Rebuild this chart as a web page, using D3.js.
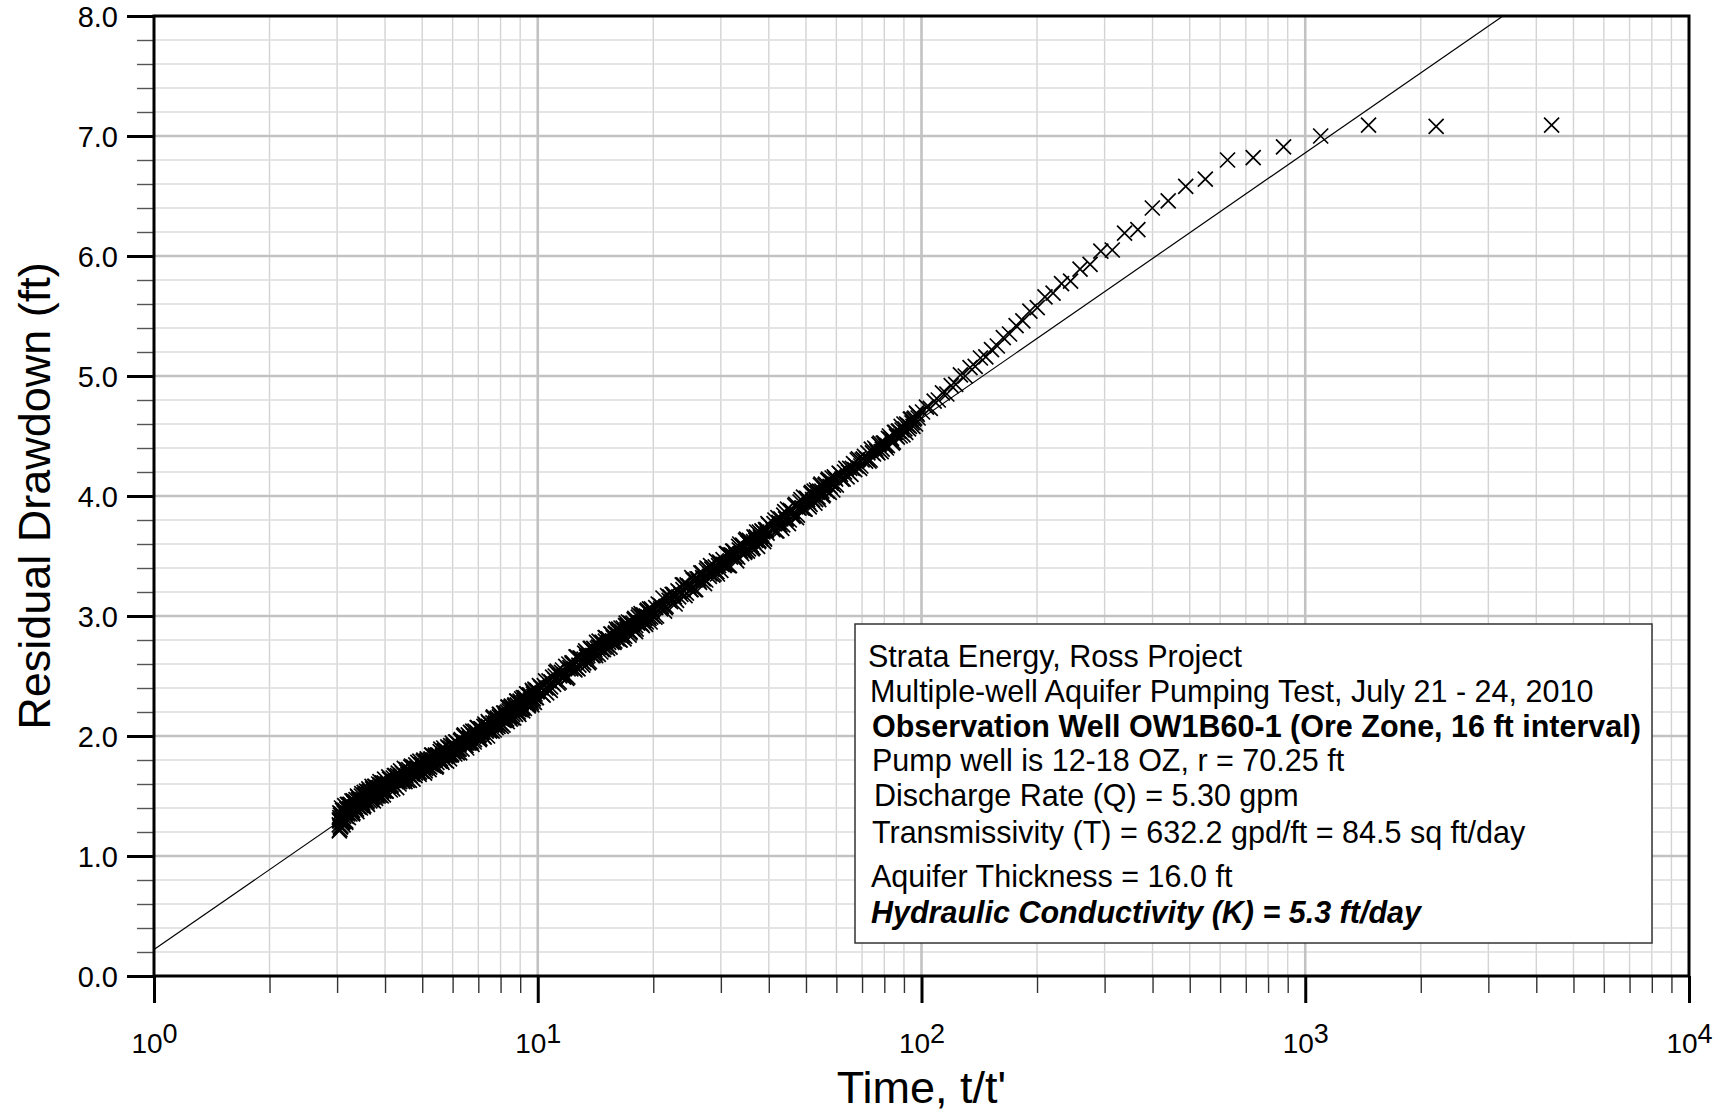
<!DOCTYPE html>
<html>
<head>
<meta charset="utf-8">
<script src="https://cdn.jsdelivr.net/npm/d3@7/dist/d3.min.js"></script>
<style>
  html, body { margin: 0; padding: 0; background: #fff; }
  svg { display: block; font-family: "Liberation Sans", Arial, Helvetica, sans-serif; }
</style>
</head>
<body>
<svg id="chart" width="1725" height="1112"></svg>
<script>
// ---------------------------------------------------------------------------
// Recovery data, OW1B60-1: time ratio t/t' and residual drawdown (ft)
// ---------------------------------------------------------------------------
const timeA = [3.04,3.04,3.05,3.05,3.06,3.06,3.08,3.10,3.12,3.14,3.16,
  3.05,3.07,3.09,3.11,3.13,3.15,3.17,3.19,3.21,3.23,3.25,3.27,3.29,3.31,3.33,3.35,
  3.37,3.39,3.41,3.43,3.45,3.47,3.49,3.51,3.53,3.55,3.57,3.59,3.61,3.63,3.65,3.67,
  3.69,3.71,3.73,3.75,3.77,3.79,3.81,3.83,3.85,3.87,3.89,3.91,3.93,3.95,3.97,3.99];
const drawdownA = [1.30,1.26,1.22,1.36,1.34,1.24,1.40,1.38,1.29,1.42,1.28,
  1.32,1.25,1.32,1.26,1.36,1.35,1.33,1.43,1.32,1.39,1.43,1.38,1.35,1.46,1.41,1.45,
  1.39,1.50,1.41,1.47,1.40,1.50,1.46,1.41,1.53,1.46,1.52,1.45,1.51,1.56,1.46,1.53,
  1.48,1.56,1.46,1.54,1.58,1.52,1.50,1.57,1.60,1.51,1.58,1.50,1.60,1.57,1.54,1.64];
const timeA2 = [3.04,3.06,3.08,3.10,3.12,3.14,3.16,3.18,3.20,3.22,3.24,3.26,3.28,3.30,
  3.32,3.34,3.36,3.38,3.40,3.42,3.44,3.46,3.48,3.50,3.52,3.54,3.56,3.58,3.60,3.62,
  3.64,3.66,3.68,3.70,3.72,3.74,3.76,3.78,3.80,3.82,3.84,3.86,3.88,3.90,3.92,3.94,
  3.96,3.98];
const drawdownA2 = [1.21,1.30,1.35,1.28,1.33,1.38,1.29,1.39,1.36,1.43,1.35,1.40,1.46,1.36,
  1.44,1.40,1.47,1.37,1.49,1.41,1.46,1.42,1.52,1.47,1.42,1.51,1.46,1.54,1.43,1.52,
  1.54,1.50,1.47,1.58,1.49,1.54,1.58,1.48,1.57,1.52,1.50,1.57,1.62,1.53,1.56,1.61,
  1.51,1.61];
const timeA3 = [3.05,3.08,3.11,3.14,3.17,3.20,3.23,3.26,3.29,3.32,3.35,3.38,3.41,3.44,
  3.47,3.50,3.53,3.56,3.59,3.62,3.65,3.68,3.71,3.74,3.77,3.80,3.83,3.86,3.89,3.92,
  3.95,3.98];
const drawdownA3 = [1.29,1.28,1.29,1.37,1.36,1.35,1.39,1.42,1.38,1.44,1.41,1.43,1.47,1.43,
  1.47,1.44,1.50,1.47,1.46,1.53,1.51,1.49,1.53,1.56,1.50,1.56,1.53,1.55,1.59,1.54,
  1.58,1.55];

const timeB = [4.03,4.07,4.11,4.15,4.19,4.23,4.27,4.31,4.35,4.39,4.43,4.47,4.51,4.55,
  4.59,4.63,4.67,4.71,4.75,4.79,4.83,4.87,4.91,4.95,4.99,5.03,5.07,5.11,5.15,5.19,
  5.23,5.27,5.31,5.35,5.39,5.43,5.47,5.51,5.55,5.59,5.63,5.67,5.71,5.75,5.79,5.83,
  5.87,5.91,5.95,5.99];
const drawdownB = [1.54,1.60,1.64,1.59,1.56,1.67,1.62,1.67,1.60,1.71,1.63,1.68,1.62,1.72,
  1.68,1.63,1.74,1.68,1.74,1.67,1.73,1.78,1.68,1.76,1.71,1.79,1.69,1.77,1.81,1.75,
  1.74,1.81,1.84,1.75,1.82,1.74,1.84,1.82,1.79,1.89,1.78,1.85,1.88,1.83,1.79,1.91,
  1.85,1.90,1.84,1.94];
const timeB2 = [4.01,4.05,4.09,4.13,4.17,4.21,4.25,4.29,4.33,4.37,4.41,4.45,4.49,4.53,
  4.57,4.61,4.65,4.69,4.73,4.77,4.81,4.85,4.89,4.93,4.97,5.01,5.05,5.09,5.13,5.17,
  5.21,5.25,5.29,5.33,5.37,5.41,5.45,5.49,5.53,5.57,5.61,5.65,5.69,5.73,5.77,5.81,
  5.85,5.89,5.93,5.97];
const drawdownB2 = [1.54,1.60,1.66,1.55,1.63,1.60,1.67,1.57,1.69,1.62,1.67,1.62,1.73,1.67,
  1.63,1.72,1.67,1.75,1.64,1.73,1.76,1.71,1.69,1.79,1.71,1.75,1.80,1.71,1.79,1.75,
  1.72,1.80,1.84,1.76,1.80,1.84,1.75,1.84,1.81,1.87,1.79,1.84,1.90,1.80,1.87,1.84,
  1.90,1.81,1.92,1.85];
const timeB3 = [4.02,4.08,4.14,4.20,4.26,4.32,4.38,4.44,4.50,4.56,4.62,4.68,4.74,4.80,
  4.86,4.92,4.98,5.04,5.10,5.16,5.22,5.28,5.34,5.40,5.46,5.52,5.58,5.64,5.70,5.76,
  5.82,5.88,5.94];
const drawdownB3 = [1.60,1.58,1.58,1.65,1.63,1.62,1.66,1.69,1.64,1.70,1.68,1.70,1.73,1.69,
  1.73,1.70,1.76,1.74,1.73,1.80,1.77,1.76,1.80,1.83,1.78,1.84,1.81,1.83,1.87,1.83,
  1.87,1.84,1.89];

const timeC = [6.05,6.11,6.17,6.23,6.29,6.35,6.41,6.47,6.53,6.59,6.65,6.71,6.77,6.83,
  6.89,6.95,7.01,7.07,7.13,7.19,7.25,7.31,7.37,7.43,7.49,7.55,7.61,7.67,7.73,7.79,
  7.85,7.91,7.97,8.03,8.09,8.15,8.21,8.27,8.33,8.39,8.45,8.51,8.57,8.63,8.69,8.75,
  8.81,8.87,8.93,8.99,9.05,9.11,9.17,9.23,9.29,9.35,9.41,9.47,9.53,9.59,9.65,9.71,
  9.77,9.83,9.89,9.95];
const drawdownC = [1.87,1.95,1.86,1.93,1.96,1.89,2.00,1.94,1.90,2.01,1.99,1.95,2.04,1.95,
  2.00,2.07,2.00,1.98,2.06,2.05,1.99,2.09,2.05,2.12,2.04,2.10,2.04,2.16,2.10,2.07,
  2.15,2.10,2.18,2.08,2.15,2.19,2.13,2.19,2.12,2.24,2.17,2.24,2.15,2.22,2.25,2.18,
  2.29,2.23,2.18,2.29,2.28,2.23,2.32,2.23,2.28,2.35,2.28,2.26,2.34,2.33,2.26,2.37,
  2.33,2.39,2.32,2.37];
const timeC2 = [6.02,6.08,6.14,6.20,6.26,6.32,6.38,6.44,6.50,6.56,6.62,6.68,6.74,6.80,
  6.86,6.92,6.98,7.04,7.10,7.16,7.22,7.28,7.34,7.40,7.46,7.52,7.58,7.64,7.70,7.76,
  7.82,7.88,7.94,8.00,8.06,8.12,8.18,8.24,8.30,8.36,8.42,8.48,8.54,8.60,8.66,8.72,
  8.78,8.84,8.90,8.96,9.02,9.08,9.14,9.20,9.26,9.32,9.38,9.44,9.50,9.56,9.62,9.68,
  9.74,9.80,9.86,9.92,9.98];
const drawdownC2 = [1.92,1.85,1.95,1.89,1.86,1.97,1.94,2.01,1.92,1.98,1.94,2.03,1.93,2.00,
  2.04,1.99,2.07,1.97,2.06,2.03,2.00,2.10,2.08,2.00,2.11,2.05,2.09,2.15,2.05,2.11,
  2.14,2.08,2.18,2.11,2.16,2.09,2.19,2.17,2.14,2.24,2.21,2.14,2.25,2.18,2.15,2.26,
  2.23,2.29,2.20,2.27,2.22,2.31,2.21,2.28,2.32,2.27,2.35,2.25,2.34,2.30,2.28,2.38,
  2.35,2.28,2.38,2.32,2.37];
const timeC3 = [6.04,6.14,6.24,6.34,6.44,6.54,6.64,6.74,6.84,6.94,7.04,7.14,7.24,7.34,
  7.44,7.54,7.64,7.74,7.84,7.94,8.04,8.14,8.24,8.34,8.44,8.54,8.64,8.74,8.84,8.94,
  9.04,9.14,9.24,9.34,9.44,9.54,9.64,9.74,9.84,9.94];
const drawdownC3 = [1.91,1.89,1.89,1.96,1.95,1.94,1.98,2.02,1.97,2.03,2.01,2.03,2.08,2.04,
  2.08,2.05,2.11,2.09,2.09,2.16,2.14,2.13,2.17,2.20,2.16,2.22,2.20,2.22,2.26,2.22,
  2.27,2.24,2.30,2.28,2.27,2.34,2.32,2.31,2.35,2.38];

const timeD = [10.10,10.25,10.40,10.55,10.70,10.85,11.00,11.15,11.30,11.45,11.60,11.75,
  11.90,12.05,12.20,12.35,12.50,12.65,12.80,12.95,13.10,13.25,13.40,13.55,13.70,13.85,
  14.00,14.15,14.30,14.45,14.60,14.75,14.90,15.05,15.20,15.35,15.50,15.65,15.80,15.95,
  16.10,16.25,16.40,16.55,16.70,16.85,17.00,17.15,17.30,17.45,17.60,17.75,17.90,18.05,
  18.20,18.35,18.50,18.65,18.80,18.95,19.10,19.25,19.40,19.55,19.70,19.85];
const drawdownD = [2.42,2.35,2.42,2.36,2.46,2.45,2.43,2.53,2.44,2.51,2.55,2.51,
  2.48,2.60,2.56,2.61,2.55,2.66,2.59,2.65,2.59,2.69,2.66,2.61,2.73,2.67,
  2.73,2.67,2.73,2.79,2.70,2.78,2.74,2.82,2.73,2.80,2.85,2.79,2.78,2.86,
  2.81,2.89,2.80,2.87,2.90,2.83,2.94,2.88,2.84,2.94,2.93,2.89,2.98,2.89,
  2.94,3.01,2.94,2.93,3.00,2.99,2.93,3.04,2.99,3.06,2.99,3.04];
const timeD2 = [10.18,10.33,10.48,10.63,10.78,10.93,11.08,11.23,11.38,11.53,11.68,11.83,
  11.98,12.13,12.28,12.43,12.58,12.73,12.88,13.03,13.18,13.33,13.48,13.63,13.78,13.93,
  14.08,14.23,14.38,14.53,14.68,14.83,14.98,15.13,15.28,15.43,15.58,15.73,15.88,16.03,
  16.18,16.33,16.48,16.63,16.78,16.93,17.08,17.23,17.38,17.53,17.68,17.83,17.98,18.13,
  18.28,18.43,18.58,18.73,18.88,19.03,19.18,19.33,19.48,19.63,19.78,19.93];
const drawdownD2 = [2.41,2.34,2.46,2.40,2.38,2.49,2.47,2.54,2.45,2.53,2.49,2.58,
  2.49,2.57,2.61,2.56,2.66,2.56,2.65,2.62,2.61,2.71,2.69,2.62,2.73,2.67,
  2.72,2.78,2.68,2.74,2.78,2.72,2.82,2.76,2.81,2.74,2.85,2.82,2.79,2.89,
  2.87,2.80,2.90,2.84,2.81,2.92,2.89,2.95,2.86,2.93,2.89,2.97,2.87,2.95,
  2.99,2.94,3.02,2.92,3.01,2.98,2.95,3.05,3.03,2.95,3.06,3.00];
const timeD3 = [10.2,10.5,10.8,11.1,11.4,11.7,12.0,12.3,12.6,12.9,13.2,13.5,13.8,14.1,
  14.4,14.7,15.0,15.3,15.6,15.9,16.2,16.5,16.8,17.1,17.4,17.7,18.0,18.3,18.6,18.9,
  19.2,19.5,19.8];
const drawdownD3 = [2.40,2.40,2.41,2.50,2.50,2.50,2.56,2.60,2.57,2.64,2.64,2.67,2.72,2.69,
  2.74,2.72,2.79,2.78,2.78,2.85,2.84,2.83,2.88,2.92,2.87,2.94,2.92,2.95,3.00,2.96,
  3.00,2.98,3.04];

const timeE = [20.2,20.6,21.0,21.4,21.8,22.2,22.6,23.0,23.4,23.8,24.2,24.6,25.0,25.4,
  25.8,26.2,26.6,27.0,27.4,27.8,28.2,28.6,29.0,29.4,29.8,30.2,30.6,31.0,31.4,31.8,
  32.2,32.6,33.0,33.4,33.8,34.2,34.6,35.0,35.4,35.8,36.2,36.6,37.0,37.4,37.8,38.2,
  38.6,39.0,39.4,39.8];
const drawdownE = [2.99,3.10,3.08,3.04,3.17,3.12,3.18,3.13,3.20,3.26,3.17,3.25,3.22,3.30,
  3.22,3.31,3.36,3.31,3.30,3.39,3.42,3.34,3.41,3.35,3.45,3.43,3.42,3.52,3.42,3.49,
  3.54,3.49,3.46,3.58,3.54,3.59,3.53,3.64,3.56,3.62,3.56,3.66,3.63,3.58,3.70,3.64,
  3.70,3.64,3.71,3.77];
const timeE2 = [20.4,20.8,21.2,21.6,22.0,22.4,22.8,23.2,23.6,24.0,24.4,24.8,25.2,25.6,
  26.0,26.4,26.8,27.2,27.6,28.0,28.4,28.8,29.2,29.6,30.0,30.4,30.8,31.2,31.6,32.0,
  32.4,32.8,33.2,33.6,34.0,34.4,34.8,35.2,35.6,36.0,36.4,36.8,37.2,37.6,38.0,38.4,
  38.8,39.2,39.6,40.0];
const drawdownE2 = [3.00,3.09,3.15,3.08,3.13,3.18,3.10,3.21,3.18,3.26,3.19,3.25,3.32,3.22,
  3.31,3.28,3.36,3.27,3.40,3.33,3.39,3.35,3.46,3.42,3.38,3.47,3.43,3.52,3.42,3.51,
  3.54,3.51,3.49,3.60,3.52,3.57,3.63,3.54,3.63,3.59,3.57,3.65,3.70,3.62,3.66,3.71,
  3.62,3.72,3.69,3.76];
const timeE3 = [20.3,20.9,21.5,22.1,22.7,23.3,23.9,24.5,25.1,25.7,26.3,26.9,27.5,28.1,
  28.7,29.3,29.9,30.5,31.1,31.7,32.3,32.9,33.5,34.1,34.7,35.3,35.9,36.5,37.1,37.7,
  38.3,38.9,39.5];
const drawdownE3 = [3.07,3.06,3.07,3.16,3.16,3.16,3.22,3.26,3.22,3.30,3.29,3.32,3.38,3.35,
  3.40,3.37,3.44,3.43,3.43,3.51,3.50,3.50,3.55,3.58,3.54,3.61,3.59,3.62,3.66,3.63,
  3.68,3.65,3.72];

const timeF = [41.0,41.5,42.0,42.5,43.0,43.5,44.0,44.5,45.0,45.5,46.0,46.5,47.0,47.5,
  48.0,48.5,49.0,49.5,50.0,50.5,51.0,51.5,52.0,52.5,53.0,53.5,54.0,54.5,55.0,55.5,
  56.0,56.5,57.0,57.5,58.0,58.5,59.0,59.5,60.0];
const drawdownF = [3.72,3.80,3.71,3.78,3.81,3.76,3.87,3.81,3.77,3.88,3.87,3.84,3.93,3.84,
  3.90,3.97,3.90,3.89,3.98,3.97,3.91,4.02,3.97,4.04,3.97,4.03,3.97,4.09,4.04,4.01,
  4.09,4.05,4.13,4.03,4.11,4.15,4.09,4.15,4.09];
const timeF2 = [41.25,41.75,42.25,42.75,43.25,43.75,44.25,44.75,45.25,45.75,46.25,46.75,
  47.25,47.75,48.25,48.75,49.25,49.75,50.25,50.75,51.25,51.75,52.25,52.75,53.25,53.75,
  54.25,54.75,55.25,55.75,56.25,56.75,57.25,57.75,58.25,58.75,59.25,59.75];
const drawdownF2 = [3.77,3.71,3.82,3.76,3.73,3.84,3.81,3.89,3.80,3.87,3.83,3.92,
  3.82,3.90,3.95,3.90,3.99,3.89,3.98,3.95,3.93,4.03,4.01,3.94,4.05,3.99,
  4.04,4.10,4.00,4.06,4.10,4.04,4.14,4.08,4.12,4.05,4.16,4.14];

const timeG = [61,62,63,64,65,66,67,68,69,70,71,72,73,74,75,76,77,78,79,80,
  81,82,83,84,85,86,87,88,89,90,91,92,93,94,95,96,97,98];
const drawdownG = [4.19,4.14,4.20,4.16,4.23,4.23,4.22,4.30,4.23,4.30,4.33,4.31,4.29,4.39,
  4.35,4.39,4.36,4.44,4.39,4.44,4.40,4.48,4.47,4.44,4.53,4.50,4.54,4.50,4.55,4.60,
  4.53,4.59,4.58,4.64,4.58,4.65,4.69,4.65];
const timeG2 = [61.5,62.5,63.5,64.5,65.5,66.5,67.5,68.5,69.5,70.5,71.5,72.5,73.5,74.5,
  75.5,76.5,77.5,78.5,79.5,80.5,81.5,82.5,83.5,84.5,85.5,86.5,87.5,88.5,89.5,90.5,
  91.5,92.5,93.5,94.5,95.5,96.5,97.5];
const drawdownG2 = [4.18,4.14,4.23,4.20,4.18,4.27,4.25,4.31,4.25,4.31,4.29,4.36,4.30,4.36,
  4.40,4.37,4.43,4.37,4.44,4.42,4.42,4.50,4.48,4.45,4.53,4.49,4.54,4.58,4.51,4.56,
  4.60,4.56,4.64,4.61,4.64,4.60,4.68];

// earliest recovery readings (largest t/t')
const timeH = [100.6,103.0,105.4,107.9,110.6,113.4,116.4,119.5,122.8,126.3,130.0,133.8,
  138.0,142.4,147.1,152.2,157.6,163.4,169.6,176.4,183.7,191.6,200.3,209.8,220.2,231.7,
  244.6,258.9,275.0,293.3,314.1,338.2,366.3,399.5,439.4,488.1,549.0,627.3,731.7,877.8,
  1097,1462,2193,4385];
const drawdownH = [4.70,4.74,4.73,4.79,4.80,4.86,4.85,4.92,4.93,5.01,5.00,5.07,
  5.08,5.15,5.16,5.22,5.25,5.32,5.35,5.42,5.46,5.54,5.57,5.66,5.69,5.77,
  5.79,5.89,5.93,6.04,6.05,6.19,6.22,6.40,6.46,6.58,6.64,6.80,6.82,6.91,
  7.00,7.09,7.08,7.09];

// Test parameters (Cooper-Jacob straight-line fit)
const dischargeGpm = 5.30;
const transmissivityGpdFt = 632.2;
const fitInterceptFt = 0.22;          // residual drawdown at t/t' = 1

// Axes
const yMajorTicks = [0, 1, 2, 3, 4, 5, 6, 7, 8];
const xDecades = [1, 10, 100, 1000, 10000];
const xDecadeExponents = ["0", "1", "2", "3", "4"];

const infoLines = [
  "Strata Energy, Ross Project",
  "Multiple-well Aquifer Pumping Test, July 21 - 24, 2010",
  "Observation Well OW1B60-1 (Ore Zone, 16 ft interval)",
  "Pump well is 12-18 OZ, r = 70.25 ft",
  "Discharge Rate (Q) = 5.30 gpm",
  "Transmissivity (T) = 632.2 gpd/ft = 84.5 sq ft/day",
  "Aquifer Thickness = 16.0 ft",
  "Hydraulic Conductivity (K) = 5.3 ft/day"
];

// ---------------------------------------------------------------------------
const segments = [
  [timeA, drawdownA], [timeA2, drawdownA2], [timeA3, drawdownA3],
  [timeB, drawdownB], [timeB2, drawdownB2], [timeB3, drawdownB3],
  [timeC, drawdownC], [timeC2, drawdownC2], [timeC3, drawdownC3],
  [timeD, drawdownD], [timeD2, drawdownD2], [timeD3, drawdownD3],
  [timeE, drawdownE], [timeE2, drawdownE2], [timeE3, drawdownE3],
  [timeF, drawdownF], [timeF2, drawdownF2],
  [timeG, drawdownG], [timeG2, drawdownG2],
  [timeH, drawdownH]
];
const points = [];
segments.forEach(([t, s]) => {
  const n = Math.min(t.length, s.length);
  for (let i = 0; i < n; i++) points.push({ t: t[i], s: s[i] });
});

const plot = { left: 154, right: 1689, top: 16, bottom: 976 };

const x = d3.scaleLog().domain([1, 10000]).range([plot.left, plot.right]);
const y = d3.scaleLinear().domain([0, 8]).range([plot.bottom, plot.top]);

const svg = d3.select("#chart");

svg.append("defs").append("clipPath").attr("id", "plotClip")
  .append("rect")
  .attr("x", plot.left).attr("y", plot.top)
  .attr("width", plot.right - plot.left).attr("height", plot.bottom - plot.top);

// ---- grid -----------------------------------------------------------------
const xAll = x.ticks();
const xMinor = xAll.filter(v => !xDecades.some(d => Math.abs(d - v) < 1e-9));
const yMinor = d3.range(1, 40).map(i => i * 0.2).filter(v => Math.abs(v - Math.round(v)) > 1e-6);

const grid = svg.append("g").attr("class", "grid");
grid.selectAll("line.vminor").data(xMinor).join("line")
  .attr("x1", d => x(d)).attr("x2", d => x(d))
  .attr("y1", plot.top).attr("y2", plot.bottom)
  .attr("stroke", "#d3d3d3").attr("stroke-width", 1.4);
grid.selectAll("line.hminor").data(yMinor).join("line")
  .attr("x1", plot.left).attr("x2", plot.right)
  .attr("y1", d => y(d)).attr("y2", d => y(d))
  .attr("stroke", "#dcdcdc").attr("stroke-width", 1.4);
grid.selectAll("line.vmajor").data(xDecades.slice(1, -1)).join("line")
  .attr("x1", d => x(d)).attr("x2", d => x(d))
  .attr("y1", plot.top).attr("y2", plot.bottom)
  .attr("stroke", "#c2c2c2").attr("stroke-width", 2.6);
grid.selectAll("line.hmajor").data(yMajorTicks.slice(1, -1)).join("line")
  .attr("x1", plot.left).attr("x2", plot.right)
  .attr("y1", d => y(d)).attr("y2", d => y(d))
  .attr("stroke", "#c2c2c2").attr("stroke-width", 2.6);

// ---- straight-line fit: slope per log cycle = 264 Q / T --------------------
const slopePerCycle = 264 * dischargeGpm / transmissivityGpdFt;
const fitPts = [1, 10000].map(t => ({ t, s: fitInterceptFt + slopePerCycle * Math.log10(t) }));
svg.append("path")
  .datum(fitPts)
  .attr("clip-path", "url(#plotClip)")
  .attr("fill", "none")
  .attr("stroke", "#000")
  .attr("stroke-width", 1.2)
  .attr("d", d3.line().x(d => x(d.t)).y(d => y(d.s)));

// ---- observations ----------------------------------------------------------
const r = 7.5;
const xMark = `M${-r},${-r}L${r},${r}M${-r},${r}L${r},${-r}`;
svg.append("g")
  .attr("clip-path", "url(#plotClip)")
  .selectAll("path").data(points).join("path")
  .attr("transform", d => `translate(${x(d.t)},${y(d.s)})`)
  .attr("d", xMark)
  .attr("fill", "none")
  .attr("stroke", "#000")
  .attr("stroke-width", 1.7);

// ---- annotation box --------------------------------------------------------
const box = svg.append("g").attr("class", "info");
box.append("rect")
  .attr("x", 855).attr("y", 624).attr("width", 797).attr("height", 319)
  .attr("fill", "#fff").attr("stroke", "#333").attr("stroke-width", 1.5);
const lineLayout = [
  { x: 868, y: 667, weight: "normal", style: "normal" },
  { x: 870, y: 702, weight: "normal", style: "normal" },
  { x: 872, y: 737, weight: "bold",   style: "normal" },
  { x: 872, y: 771, weight: "normal", style: "normal" },
  { x: 874, y: 806, weight: "normal", style: "normal" },
  { x: 872, y: 843, weight: "normal", style: "normal" },
  { x: 871, y: 887, weight: "normal", style: "normal" },
  { x: 871, y: 923, weight: "bold",   style: "italic" }
];
box.selectAll("text").data(infoLines).join("text")
  .attr("x", (d, i) => lineLayout[i].x)
  .attr("y", (d, i) => lineLayout[i].y)
  .attr("font-size", 30.5)
  .attr("font-weight", (d, i) => lineLayout[i].weight)
  .attr("font-style", (d, i) => lineLayout[i].style)
  .attr("fill", "#000")
  .text(d => d);

// ---- axes ------------------------------------------------------------------
// Y minor ticks
svg.append("g")
  .attr("transform", `translate(${plot.left},0)`)
  .call(d3.axisLeft(y).tickValues(yMinor).tickSize(17).tickFormat(""))
  .call(g => g.select(".domain").remove())
  .call(g => g.selectAll(".tick line").attr("stroke", "#555").attr("stroke-width", 1.4));

// Y major ticks and labels
svg.append("g")
  .attr("transform", `translate(${plot.left},0)`)
  .call(d3.axisLeft(y).tickValues(yMajorTicks).tickSize(27).tickPadding(9).tickFormat(d3.format(".1f")))
  .call(g => g.select(".domain").remove())
  .call(g => g.selectAll(".tick line").attr("stroke", "#000").attr("stroke-width", 3))
  .call(g => g.selectAll(".tick text")
    .attr("font-size", 29).attr("fill", "#000")
    .attr("font-family", "'Liberation Sans', Arial, Helvetica, sans-serif")
    .attr("dy", "0.36em"));

// X minor ticks
svg.append("g")
  .attr("transform", `translate(0,${plot.bottom})`)
  .call(d3.axisBottom(x).tickValues(xMinor).tickSize(17).tickFormat(""))
  .call(g => g.select(".domain").remove())
  .call(g => g.selectAll(".tick line").attr("stroke", "#333").attr("stroke-width", 1.4));

// X major ticks with power-of-ten labels
const xMajorAxis = svg.append("g")
  .attr("transform", `translate(0,${plot.bottom})`)
  .call(d3.axisBottom(x).tickValues(xDecades).tickSize(27).tickFormat(""))
  .call(g => g.select(".domain").remove())
  .call(g => g.selectAll(".tick line").attr("stroke", "#000").attr("stroke-width", 3));
xMajorAxis.selectAll(".tick text").remove();
xMajorAxis.selectAll(".tick").each(function (d, i) {
  const t = d3.select(this).append("text")
    .attr("x", 0).attr("y", 77)
    .attr("text-anchor", "middle")
    .attr("fill", "#000")
    .attr("font-family", "'Liberation Sans', Arial, Helvetica, sans-serif");
  t.append("tspan").attr("font-size", 28).text("10");
  t.append("tspan").attr("font-size", 27).attr("dy", -10).text(xDecadeExponents[i]);
});

// Frame
svg.append("rect")
  .attr("x", plot.left).attr("y", plot.top)
  .attr("width", plot.right - plot.left).attr("height", plot.bottom - plot.top)
  .attr("fill", "none").attr("stroke", "#000").attr("stroke-width", 3);

// Axis titles
svg.append("text")
  .attr("transform", `translate(50,${(plot.top + plot.bottom) / 2}) rotate(-90)`)
  .attr("text-anchor", "middle")
  .attr("font-size", 45)
  .attr("fill", "#000")
  .text("Residual Drawdown (ft)");

svg.append("text")
  .attr("x", (plot.left + plot.right) / 2)
  .attr("y", 1103)
  .attr("text-anchor", "middle")
  .attr("font-size", 45)
  .attr("fill", "#000")
  .text("Time, t/t'");
</script>
</body>
</html>
